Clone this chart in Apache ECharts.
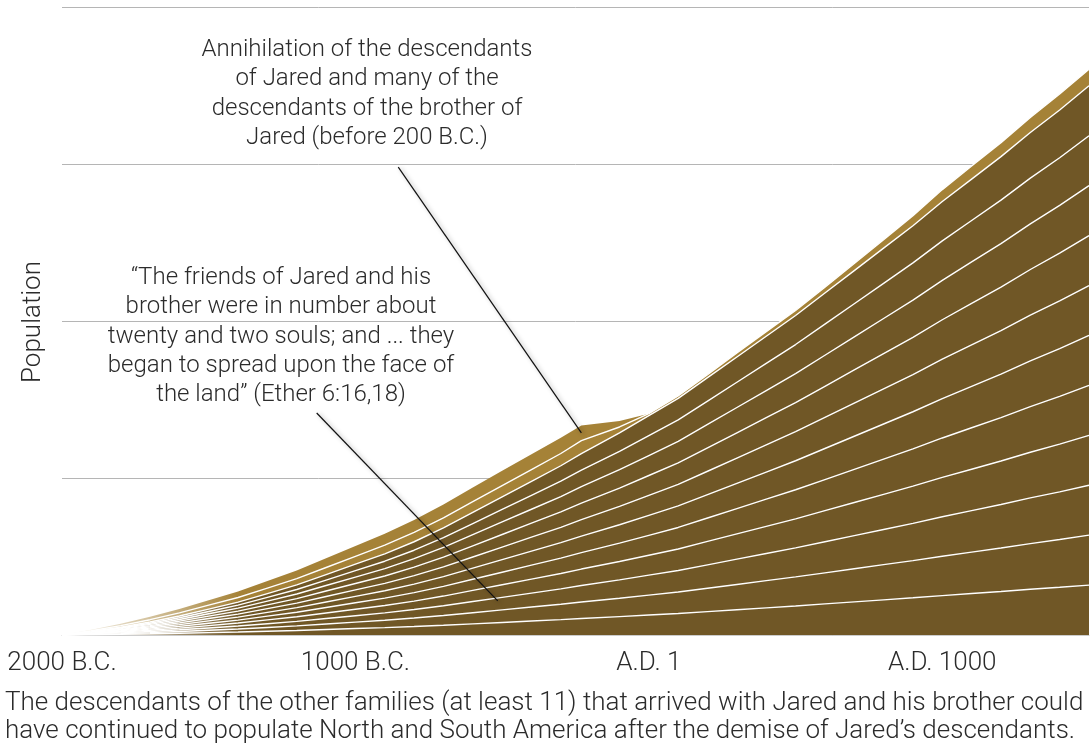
<!DOCTYPE html>
<html><head><meta charset="utf-8">
<script src="https://cdn.jsdelivr.net/npm/echarts@6/dist/echarts.min.js"></script>
<style>html,body{margin:0;padding:0;background:#fff}#c{width:1092px;height:746px}</style>
</head><body><div id="c"></div>
<script>
// ---- data ----
const years = [-2000,-1900,-1800,-1700,-1600,-1500,-1400,-1300,-1200,-1100,-1000,-900,-800,-700,-600,-500,-400,-300,-230,-100,0,100,200,300,400,500,600,700,800,900,1000,1100,1200,1300,1400,1500];
// population of each of the other families (all grow alike)
const otherFamily = [0,0.002,0.0045,0.0075,0.011,0.015,0.019,0.024,0.029,0.035,0.041,0.047,0.054,0.062,0.071,0.080,0.089,0.098,0.105,0.117,0.127,0.137,0.149,0.161,0.173,0.185,0.198,0.211,0.224,0.237,0.251,0.264,0.277,0.291,0.304,0.318];
const brotherOfJared = [0,0.005,0.010,0.015,0.020,0.025,0.030,0.035,0.040,0.045,0.050,0.055,0.060,0.064,0.068,0.072,0.075,0.078,0.083,0.038,0.013,0.016,0.019,0.025,0.029,0.032,0.038,0.045,0.054,0.064,0.076,0.083,0.089,0.096,0.102,0.105];
const jared = [0,0.006,0.012,0.018,0.025,0.031,0.038,0.045,0.052,0.059,0.066,0.073,0.079,0.085,0.090,0.094,0.098,0.100,0.096,0.038,0,0,0,0,0,0,0,0,0,0,0,0,0,0,0,0];
const otherFamilyCount = 11;
const xTickValues = [-2000,-1000,0,1000];
const xTickLabels = ['2000 B.C.','1000 B.C.','A.D. 1','A.D. 1000'];
const leader1 = [[-854,2.98],[-230,1.287]];
const leader2 = [[-1132,1.414],[-515,0.217]];

// ---- styling ----
const FONT = 'Roboto';
const TXT = '#2b2b2b';
const DARK = '#705726', GOLD = '#A58237';
function fade(c){
  return {type:'linear', x:62, y:0, x2:240, y2:0, global:true,
    colorStops:[{offset:0,color:'#ffffff'},{offset:1,color:c}]};
}

// bands from bottom to top; each drawn as an area reaching down to the axis,
// lower bands painted over higher ones (stacked totals)
const bands = [];
for (let k=0;k<otherFamilyCount;k++) bands.push({name:'Family '+(k+1), vals:otherFamily, color:DARK, line:true});
bands.push({name:'Brother of Jared', vals:brotherOfJared, color:GOLD, line:true});
bands.push({name:'Jared', vals:jared, color:GOLD, line:false});

const series = [];
let cum = years.map(()=>0);
bands.forEach((b,i)=>{
  cum = cum.map((c,j)=>c+b.vals[j]);
  series.push({type:'line', name:b.name, symbol:'none', z:100-i,
    data:years.map((y,j)=>[y, +cum[j].toFixed(4)]),
    lineStyle: b.line ? {color:'#fff', width:1.4} : {width:0, opacity:0},
    areaStyle:{color:fade(b.color), opacity:1}, emphasis:{disabled:true}});
});
[leader1, leader2].forEach((L,i)=>{
  series.push({type:'line', name:'leader'+i, symbol:'none', z:200, data:L,
    lineStyle:{color:'#111', width:1.2, shadowColor:'rgba(0,0,0,0.35)', shadowBlur:4, shadowOffsetX:2, shadowOffsetY:1},
    emphasis:{disabled:true}});
});

const chart = echarts.init(document.getElementById('c'), null, {renderer:'canvas'});
chart.setOption({
  animation:false,
  backgroundColor:'#fff',
  grid:{left:62, right:-4, top:7, bottom:111, containLabel:false},
  xAxis:{type:'value', min:-2000, max:1500, interval:1000,
    axisLine:{show:true, lineStyle:{color:'#cccccc', width:1}},
    axisTick:{show:false}, splitLine:{show:false},
    axisLabel:{margin:15, fontSize:26, color:TXT, fontFamily:FONT, fontWeight:300,
      formatter:v=>{const i=xTickValues.indexOf(v); return i>=0?xTickLabels[i]:'';}}},
  yAxis:{type:'value', min:0, max:4, interval:1,
    axisLine:{show:false}, axisTick:{show:false}, axisLabel:{show:false},
    splitLine:{lineStyle:{color:'#b5b5b5', width:1}}},
  series:series,
  graphic:[
    {type:'text', x:367, y:35.5, z:300, style:{text:'Annihilation of the descendants\nof Jared and many of the\ndescendants of the brother of\nJared (before 200 B.C.)',
      textAlign:'center', textVerticalAlign:'top', lineHeight:29.3, fontSize:24, fontFamily:FONT, fontWeight:300, fill:TXT}},
    {type:'text', x:281, y:263.5, z:300, style:{text:'\u201CThe friends of Jared and his\nbrother were in number about\ntwenty and two souls; and ... they\nbegan to spread upon the face of\nthe land\u201D (Ether 6:16,18)',
      textAlign:'center', textVerticalAlign:'top', lineHeight:29.3, fontSize:24, fontFamily:FONT, fontWeight:300, fill:TXT}},
    {type:'text', x:33, y:322, rotation:Math.PI/2, z:300, style:{text:'Population', textAlign:'center', textVerticalAlign:'middle',
      fontSize:26, fontFamily:FONT, fontWeight:300, fill:TXT}},
    {type:'text', x:5, y:689, z:300, style:{text:'The descendants of the other families (at least 11) that arrived with Jared and his brother could\nhave continued to populate North and South America after the demise of Jared\u2019s descendants.',
      textAlign:'left', textVerticalAlign:'top', lineHeight:28, fontSize:26, fontFamily:FONT, fontWeight:300, fill:TXT}}
  ]
});
</script></body></html>
